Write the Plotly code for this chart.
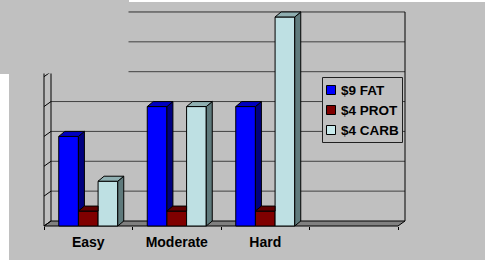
import plotly.graph_objects as go

# ---------------- data ----------------
categories = ["Easy", "Moderate", "Hard"]
series_names = ["$9 FAT", "$4 PROT", "$4 CARB"]
fat_values = [3, 4, 4]
prot_values = [0.5, 0.5, 0.5]
carb_values = [1.5, 4, 7]
value_ticks = [0, 1, 2, 3, 4, 5, 6, 7]

# ---------------- styling ----------------
series_values = [fat_values, prot_values, carb_values]
front_colors = ["#0000FF", "#800000", "#BEE0E3"]
top_colors = ["#0000C0", "#600000", "#8FAFB1"]
side_colors = ["#000080", "#400000", "#5F7A7C"]
legend_colors = ["#0000FF", "#800000", "#C8EAEC"]
BG = "#C0C0C0"
FONT = "Liberation Sans, Arial, sans-serif"

W, H = 485, 261
n_slots = 4              # three categories plus one empty slot
cat_px = 88.5            # width of a category slot on the front plane
x_origin_px = 44         # left edge of the floor (front)
y_origin_px = 226        # value 0 on the front plane
unit_px = 29.86          # pixels per value unit


def px_to_x(px):
    return (px - x_origin_px) / cat_px - 0.5


def px_to_y(py):
    return (y_origin_px - py) / unit_px


def pxx(px):
    return px / W


def pxy(py):
    return 1 - py / H


x_range = [px_to_x(0), px_to_x(W)]
y_range = [px_to_y(H), px_to_y(0)]

bdx, bdy = 6 / cat_px, 5 / unit_px      # bar depth
wdx, wdy = 7 / cat_px, 5 / unit_px      # wall / floor depth

bargap = 1 / 3
bar_w = (1 - bargap) / len(series_values)
x_left = -0.5
x_right = n_slots - 0.5
vmax = value_ticks[-1]

fig = go.Figure()

# front faces of the columns
for name, vals, col in zip(series_names, series_values, front_colors):
    fig.add_trace(go.Bar(
        x=list(range(len(categories))), y=vals, name=name,
        marker=dict(color=col, line=dict(color="black", width=1)),
        showlegend=False, hoverinfo="skip"))

# top and side faces (3-D look), computed from the same values
for i in range(len(categories)):
    for j, vals in enumerate(series_values):
        v = vals[i]
        xl = i - (1 - bargap) / 2 + j * bar_w
        xr = xl + bar_w
        vn = series_values[j + 1][i] if j + 1 < len(series_values) else None
        # side face
        if vn is None:
            sx = [xr, xr + bdx, xr + bdx, xr, xr]
            sy = [0, bdy, v + bdy, v, 0]
        elif vn < v:
            sx = [xr, xr + bdx, xr + bdx, xr, xr]
            sy = [vn, vn + bdy, v + bdy, v, vn]
        else:
            sx = sy = None
        if sx is not None:
            fig.add_trace(go.Scatter(
                x=sx, y=sy, mode="lines", fill="toself",
                fillcolor=side_colors[j], line=dict(color="black", width=1),
                showlegend=False, hoverinfo="skip"))
        # top face
        if vn is not None and vn > v:
            tx = [xl, xr, xr, xl + bdx, xl]
            ty = [v, v, v + bdy, v + bdy, v]
        else:
            tx = [xl, xr, xr + bdx, xl + bdx, xl]
            ty = [v, v, v + bdy, v + bdy, v]
        fig.add_trace(go.Scatter(
            x=tx, y=ty, mode="lines", fill="toself",
            fillcolor=top_colors[j], line=dict(color="black", width=1),
            showlegend=False, hoverinfo="skip"))

shapes = []
# white strips at the image edges
shapes.append(dict(type="rect", xref="paper", yref="paper", layer="below",
                   x0=pxx(129), x1=1, y0=pxy(2), y1=1,
                   fillcolor="white", line=dict(width=0)))
shapes.append(dict(type="rect", xref="paper", yref="paper", layer="below",
                   x0=0, x1=pxx(9), y0=0, y1=pxy(74),
                   fillcolor="white", line=dict(width=0)))
shapes.append(dict(type="rect", xref="paper", yref="paper", layer="below",
                   x0=0, x1=1, y0=0, y1=pxy(260),
                   fillcolor="white", line=dict(width=0)))

# floor
shapes.append(dict(type="path", xref="x", yref="y", layer="below",
                   path=f"M{x_left},0 L{x_right},0 L{x_right + wdx},{wdy} "
                        f"L{x_left + wdx},{wdy} Z",
                   fillcolor="#808080", line=dict(color="black", width=1)))
# back-wall gridlines
for v in value_ticks[1:]:
    shapes.append(dict(type="line", xref="x", yref="y", layer="below",
                       x0=x_left + wdx, x1=x_right + wdx, y0=v + wdy, y1=v + wdy,
                       line=dict(color="#303030" if v == vmax else "#404040", width=1)))
# left wall
shapes.append(dict(type="line", xref="x", yref="y", layer="below",
                   x0=x_left, x1=x_left, y0=0, y1=vmax,
                   line=dict(color="black", width=1)))
shapes.append(dict(type="line", xref="x", yref="y", layer="below",
                   x0=x_left + wdx, x1=x_left + wdx, y0=wdy, y1=vmax + wdy,
                   line=dict(color="black", width=1)))
for v in value_ticks:
    shapes.append(dict(type="line", xref="x", yref="y", layer="below",
                       x0=x_left, x1=x_left + wdx, y0=v, y1=v + wdy,
                       line=dict(color="black", width=1)))
# right wall edge
shapes.append(dict(type="line", xref="x", yref="y", layer="below",
                   x0=x_right + wdx, x1=x_right + wdx, y0=wdy, y1=vmax + wdy,
                   line=dict(color="black", width=1)))

# opaque box hiding the top-left corner of the walls
shapes.append(dict(type="rect", xref="paper", yref="paper", layer="above",
                   x0=0, x1=pxx(128.5), y0=pxy(73.5), y1=1,
                   fillcolor=BG, line=dict(width=0)))

# legend box
shapes.append(dict(type="rect", xref="paper", yref="paper", layer="above",
                   x0=pxx(322.5), x1=pxx(402.5), y0=pxy(142.5), y1=pxy(77.5),
                   fillcolor=BG, line=dict(color="#202020", width=1)))
annotations = []
for k, (name, col) in enumerate(zip(series_names, legend_colors)):
    cy = 90 + 20 * k
    shapes.append(dict(type="rect", xref="paper", yref="paper", layer="above",
                       x0=pxx(326.5), x1=pxx(335.5), y0=pxy(cy + 4.5), y1=pxy(cy - 4.5),
                       fillcolor=col, line=dict(color="black", width=1)))
    annotations.append(dict(xref="paper", yref="paper", x=pxx(338.5), y=pxy(cy),
                            xanchor="left", yanchor="middle", showarrow=False,
                            text=f"<b>{name}</b>",
                            font=dict(family=FONT, size=13.5, color="black")))

fig.update_layout(
    width=W, height=H,
    margin=dict(l=0, r=0, t=0, b=0, pad=0),
    paper_bgcolor=BG, plot_bgcolor=BG,
    barmode="group", bargap=bargap, bargroupgap=0,
    showlegend=False, hovermode=False,
    shapes=shapes, annotations=annotations,
    xaxis=dict(range=x_range, anchor="free", position=pxy(y_origin_px),
               showgrid=False, zeroline=False, showline=False,
               tickmode="array", tickvals=list(range(len(categories))),
               ticktext=categories, ticks="",
               tickfont=dict(family=FONT, size=14, color="black", weight="bold"),
               ticklabelstandoff=6,
               minor=dict(tickmode="array",
                          tickvals=[x_left + k for k in range(n_slots + 1)],
                          ticks="outside", ticklen=3, tickcolor="black", tickwidth=1,
                          showgrid=False)),
    yaxis=dict(range=y_range, visible=False, showgrid=False, zeroline=False),
)

# remove the browser's default 8px page margin so the figure sits at (0, 0)
page_fix = ("document.body.style.margin='0';document.body.style.padding='0';"
            "document.documentElement.style.overflow='hidden';")
fig.write_html("out.html", post_script=page_fix,
               config={"displayModeBar": False, "staticPlot": True})
